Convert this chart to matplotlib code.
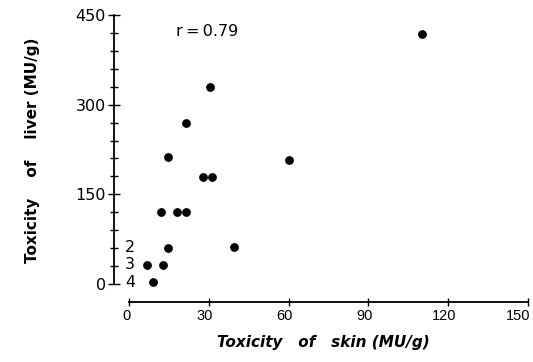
import matplotlib.pyplot as plt
from matplotlib.ticker import FixedLocator
from matplotlib.transforms import ScaledTranslation

# skin toxicity (MU/g) vs liver toxicity (MU/g)
skin = [14.7, 27.9, 31.2, 11.9, 18.1, 21.4, 14.7, 39.5, 6.9, 12.9, 8.9, 30.4, 21.4, 110, 60.3]
liver = [212, 179, 179, 120, 120, 120, 61, 62, 32, 32, 3, 329, 269, 418, 207]
x_ticks = [0, 30, 60, 90, 120, 150]
y_ticks = [0, 150, 300, 450]
y_minor = [30, 60, 90, 120, 180, 210, 240, 270, 330, 360, 390, 420]
# counts of overlapping specimens written beside the y axis
count_labels = ["2", "3", "4"]
count_y = [61, 32, 3]
r_text = "r\u2009=\u20090.79"
x_title = "Toxicity   of   skin (MU/g)"
y_title = "Toxicity    of    liver (MU/g)"

plt.rcParams['font.family'] = ['DejaVu Sans']

fig = plt.figure(figsize=(5.33, 3.62), dpi=100)
W, H = 533, 362
ax = fig.add_axes([110.4 / W, 1 - 303.1 / H, (532 - 110.4) / W, (303.1 - 9) / H])

ax.scatter(skin, liver, s=28, color='black', zorder=3)
ax.set_xlim(-7, 151.5)
ax.set_ylim(-32, 460)

for s in ['top', 'right']:
    ax.spines[s].set_visible(False)
ax.spines['left'].set_position(('data', -5.5))
ax.spines['left'].set_bounds(0, 450)
ax.spines['bottom'].set_position(('data', -30))
ax.spines['bottom'].set_bounds(0, 150)
for s in ['left', 'bottom']:
    ax.spines[s].set_linewidth(1.3)

ax.set_xticks(x_ticks)
ax.set_yticks(y_ticks)
ax.yaxis.set_minor_locator(FixedLocator(y_minor))
ax.tick_params(axis='both', which='both', direction='inout', color='black', width=1)
ax.tick_params(axis='y', which='major', length=8, pad=2)
ax.tick_params(axis='y', which='minor', length=6)
ax.tick_params(axis='x', which='major', length=6, pad=2)
ax.set_xticklabels([str(v) for v in x_ticks], fontsize=10.5, family='Liberation Sans')
ax.set_yticklabels([str(v) for v in y_ticks], fontsize=11.5)
# labels in the original sit a little left of their ticks (last one most)
for lab, dx in zip(ax.get_xticklabels(), [-2, -3, -3, -3, -3, -7]):
    lab.set_transform(lab.get_transform() + ScaledTranslation(dx / 72, 0, fig.dpi_scale_trans))

for lab, yv in zip(count_labels, count_y):
    ax.text(-1.5, yv, lab, fontsize=11.5, va='center', ha='left')

ax.text(17.5, 423, r_text, fontsize=11.5, va='center', ha='left')

fig.text(323 / W, 1 - 342 / H, x_title, fontsize=11,
         fontweight='bold', style='italic', ha='center', va='center')
fig.text(33 / W, 1 - 150 / H, y_title, fontsize=11,
         fontweight='bold', rotation=90, ha='center', va='center')

fig.savefig("out.png", dpi=100, facecolor='white')
